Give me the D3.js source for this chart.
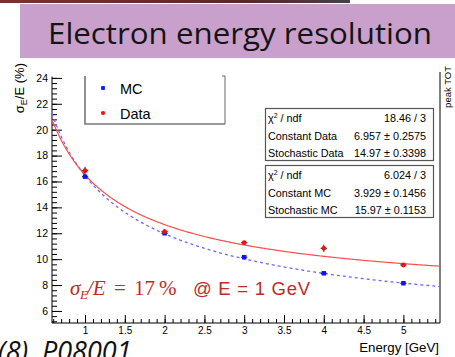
<!DOCTYPE html>
<html>
<head>
<meta charset="utf-8">
<script src="https://cdn.jsdelivr.net/npm/d3@7"></script>
<style>
  html, body { margin: 0; padding: 0; background: #fff; }
  svg { display: block; }
  text { font-family: "Liberation Sans", Arial, sans-serif; }
</style>
</head>
<body>
<svg id="chart" width="455" height="357"></svg>
<script>
// Beam energies (GeV) and measured resolutions sigma_E/E (%)
const energies  = [1, 2, 3, 4, 5];
const dataRes   = [16.83, 12.12, 11.27, 10.84, 9.55];
const dataErr   = [0.30, 0.20, 0.12, 0.28, 0.12];
const mcRes     = [16.37, 12.00, 10.15, 8.91, 8.14];
const mcErr     = [0.12, 0.08, 0.07, 0.06, 0.05];
const energyErr = [0.04, 0.04, 0.04, 0.04, 0.04];

// Fit results: sigma/E = sqrt(stochastic^2 / E + constant^2)
const fitData = { stochastic: 14.97, constant: 6.957 };
const fitMC   = { stochastic: 15.97, constant: 3.929 };

// Stat box rows
const statsData = [["χ² / ndf", "18.46 / 3"], ["Constant Data", "6.957 ± 0.2575"], ["Stochastic Data", "14.97 ± 0.3398"]];
const statsMC   = [["χ² / ndf", "6.024 / 3"], ["Constant MC", "3.929 ± 0.1456"], ["Stochastic MC", "15.97 ± 0.1153"]];

// Axis ticks
const xMajor = [1, 1.5, 2, 2.5, 3, 3.5, 4, 4.5, 5];
const xMinor = d3.range(6, 55).map(d => d / 10);
const yMajor = [6, 8, 10, 12, 14, 16, 18, 20, 22, 24];
const yMinor = d3.range(13, 61).map(d => d * 0.4);

const svg = d3.select("#chart");

// ---- header band ----
const defs = svg.append("defs");
const grad = defs.append("linearGradient").attr("id", "strip");
grad.append("stop").attr("offset", "0%").attr("stop-color", "#7a3330");
grad.append("stop").attr("offset", "70%").attr("stop-color", "#5b2628");
grad.append("stop").attr("offset", "100%").attr("stop-color", "#45404a");
svg.append("rect").attr("x", 0).attr("y", 0).attr("width", 350).attr("height", 3).attr("fill", "url(#strip)");
svg.append("rect").attr("x", 20).attr("y", 4).attr("width", 435).attr("height", 54).attr("fill", "#c8a0cb");
svg.append("text")
  .attr("x", 48).attr("y", 43.5)
  .attr("textLength", 384).attr("lengthAdjust", "spacingAndGlyphs")
  .style("font-family", "'Open Sans', 'Noto Sans', sans-serif")
  .style("font-size", "28.5px").attr("fill", "#141414")
  .text("Electron energy resolution");

// ---- scales ----
const x = d3.scaleLinear().domain([0.585, 5.46]).range([52, 440]);
const y = d3.scaleLinear().domain([5.07, 24.1]).range([323, 76.6]);

const plot = svg.append("g");

// right frame edge
plot.append("line").attr("x1", 440).attr("x2", 440).attr("y1", 72).attr("y2", 323)
  .attr("stroke", "#000").attr("stroke-width", 1);

// y axis
const yAxisG = plot.append("g").attr("transform", "translate(52,0)");
yAxisG.call(d3.axisLeft(y).tickValues(yMinor).tickSize(-5).tickFormat(""));
yAxisG.call(g => g.select(".domain").remove());
const yMajorG = plot.append("g").attr("transform", "translate(52,0)");
yMajorG.call(d3.axisLeft(y).tickValues(yMajor).tickSize(-10).tickPadding(4).tickFormat(d3.format("d")));
yMajorG.selectAll("text").style("font-size", "10.5px").attr("fill", "#000");
yMajorG.select(".domain").attr("d", `M0,${y.range()[0]}V${y.range()[1]}`);

// x axis
const xAxisG = plot.append("g").attr("transform", "translate(0,323)");
xAxisG.call(d3.axisBottom(x).tickValues(xMinor).tickSize(-4).tickFormat(""));
xAxisG.call(g => g.select(".domain").remove());
const xMajorG = plot.append("g").attr("transform", "translate(0,323)");
xMajorG.call(d3.axisBottom(x).tickValues(xMajor).tickSize(-8).tickPadding(4).tickFormat(d3.format("~g")));
xMajorG.selectAll("text").style("font-size", "10px").attr("fill", "#000");
xMajorG.select(".domain").attr("d", `M${x.range()[0]},0H${x.range()[1]}`);

// axis titles
svg.append("text")
  .attr("transform", "translate(24,63) rotate(-90)")
  .attr("text-anchor", "end")
  .style("font-size", "13px")
  .call(t => {
    t.append("tspan").text("σ");
    t.append("tspan").attr("dy", 3).style("font-size", "9px").text("E");
    t.append("tspan").attr("dy", -3).text("/E (%)");
  });
svg.append("text")
  .attr("x", 439).attr("y", 352).attr("text-anchor", "end")
  .style("font-size", "13.3px").text("Energy [GeV]");

// ---- fit curves ----
const fitCurve = p => E => Math.sqrt(p.stochastic * p.stochastic / E + p.constant * p.constant);
const grid = d3.range(0, 401).map(i => x.domain()[0] + i * (x.domain()[1] - x.domain()[0]) / 400);
const line = f => d3.line().x(E => x(E)).y(E => y(f(E)))(grid);

plot.append("path").attr("d", line(fitCurve(fitMC)))
  .attr("fill", "none").attr("stroke", "#6a6aff").attr("stroke-width", 1.3)
  .attr("stroke-dasharray", "3,3");
plot.append("path").attr("d", line(fitCurve(fitData)))
  .attr("fill", "none").attr("stroke", "#ff4c4c").attr("stroke-width", 1.2);

// ---- points with error bars ----
function drawSeries(vals, errs, color, shape) {
  const g = plot.append("g");
  energies.forEach((E, i) => {
    g.append("line").attr("x1", x(E)).attr("x2", x(E))
      .attr("y1", y(vals[i] - errs[i])).attr("y2", y(vals[i] + errs[i]))
      .attr("stroke", "#222").attr("stroke-width", 1);
    g.append("line").attr("x1", x(E - energyErr[i])).attr("x2", x(E + energyErr[i]))
      .attr("y1", y(vals[i])).attr("y2", y(vals[i]))
      .attr("stroke", "#222").attr("stroke-width", 1);
  });
  g.selectAll("path.m").data(energies).join("path")
    .attr("d", d3.symbol().type(shape).size(shape === d3.symbolSquare ? 20 : 18))
    .attr("transform", (E, i) => `translate(${x(E)},${y(vals[i])})`)
    .attr("fill", color);
}
drawSeries(mcRes, mcErr, "#1010f0", d3.symbolSquare);
drawSeries(dataRes, dataErr, "#f01010", d3.symbolCircle);

// ---- legend ----
const leg = svg.append("g");
leg.append("rect").attr("x", 84).attr("y", 66).attr("width", 141).attr("height", 58)
  .attr("fill", "#fff").attr("stroke", "none");
leg.append("path").attr("d", "M85,76V124H225").attr("fill", "none").attr("stroke", "#777").attr("stroke-width", 1.6);
leg.append("path").attr("d", "M222,76H225V124").attr("fill", "none").attr("stroke", "#666").attr("stroke-width", 1);
leg.append("path").attr("d", d3.symbol().type(d3.symbolSquare).size(14)).attr("transform", "translate(103,88)").attr("fill", "#1010f0");
leg.append("path").attr("d", d3.symbol().type(d3.symbolCircle).size(14)).attr("transform", "translate(103,113)").attr("fill", "#f01010");
leg.append("text").attr("x", 120).attr("y", 93.5).style("font-size", "14.5px").text("MC");
leg.append("text").attr("x", 120).attr("y", 118.5).style("font-size", "14.5px").text("Data");

// ---- stats boxes ----
function statsBox(top, rows) {
  const g = svg.append("g");
  g.append("rect").attr("x", 265.5).attr("y", top + 0.5).attr("width", 168).attr("height", 52)
    .attr("fill", "#fff").attr("stroke", "#555").attr("stroke-width", 1.2);
  rows.forEach((r, i) => {
    const yy = top + 14 + i * 17.5;
    const lab = g.append("text").attr("x", 268).attr("y", yy).style("font-size", "10.8px");
    if (r[0].startsWith("χ")) {
      lab.append("tspan").text("χ");
      lab.append("tspan").attr("dy", -4).style("font-size", "7px").text("2");
      lab.append("tspan").attr("dy", 4).text(" / ndf");
    } else {
      lab.text(r[0]);
    }
    g.append("text").attr("x", 426).attr("y", yy).attr("text-anchor", "end")
      .style("font-size", "10.8px").text(r[1]);
  });
}
statsBox(108, statsData);
statsBox(165, statsMC);

// ---- fit annotation ----
const note = svg.append("text").attr("y", 295).attr("fill", "#c22a26")
  .style("font-family", "'Liberation Serif', 'Times New Roman', serif").style("font-size", "21px");
note.append("tspan").attr("x", 70).style("font-style", "italic").text("σ");
note.append("tspan").attr("x", 80).attr("dy", 4).style("font-style", "italic").style("font-size", "13px").text("E");
note.append("tspan").attr("x", 87).attr("dy", -4).style("font-style", "italic").text("/E");
note.append("tspan").attr("x", 114).text("=");
note.append("tspan").attr("x", 134).text("17");
note.append("tspan").attr("x", 159).text("%");
svg.append("text").attr("x", 193).attr("y", 295).attr("fill", "#c22a26")
  .attr("textLength", 117).attr("lengthAdjust", "spacing")
  .style("font-size", "18.5px").text("@ E = 1 GeV");

// ---- surrounding page fragments ----
svg.append("text").attr("x", -2).attr("y", 361)
  .style("font-family", "'Open Sans', 'Noto Sans', sans-serif")
  .style("font-style", "italic").style("font-size", "27px").attr("fill", "#111")
  .text("(8), P08001");
svg.append("text")
  .attr("transform", "translate(451,66) rotate(-90)")
  .attr("text-anchor", "end").style("font-size", "9.5px").text("peak TOT");
</script>
</body>
</html>
